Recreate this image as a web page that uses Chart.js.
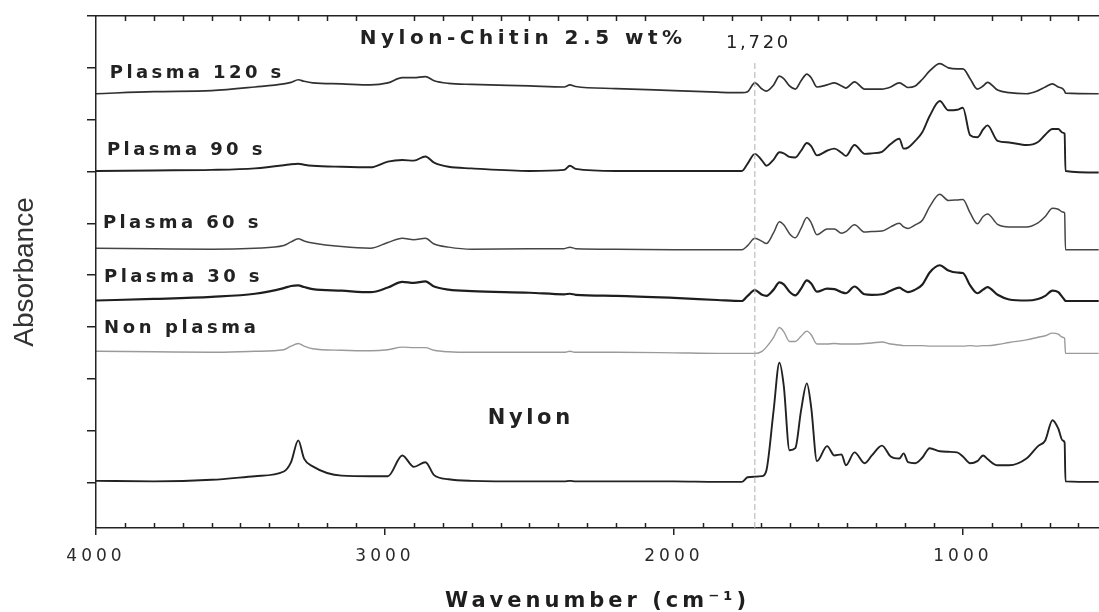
<!DOCTYPE html>
<html>
<head>
<meta charset="utf-8">
<title>Nylon-Chitin FTIR</title>
<script src="https://cdn.jsdelivr.net/npm/chart.js@4.4.1/dist/chart.umd.min.js"></script>
<style>
    html, body { margin: 0; padding: 0; background: #fff; }
    #wrap { width: 1099px; height: 612px; }
</style>
</head>
<body>
<div id="wrap"><canvas id="ftirChart" width="1099" height="612"></canvas></div>
<script>
// wavenumber grid (cm-1), shared by every spectrum
const wavenumbers = [4000, 3800, 3600, 3450, 3350, 3325, 3300, 3280, 3250, 3150, 3050, 2990, 2940, 2900, 2860, 2830, 2780,
    2700, 2500, 2380, 2360, 2340, 2200, 2000, 1850, 1765, 1745, 1720, 1695, 1680, 1655, 1635, 1620, 1600, 1580, 1560,
    1540, 1525, 1505, 1470, 1445, 1420, 1405, 1375, 1340, 1315, 1280, 1250, 1220, 1205, 1190, 1165, 1140, 1115, 1080,
    1050, 1020, 1000, 975, 950, 930, 915, 880, 840, 780, 740, 715, 690, 670, 655, 648, 645, 530];

// stacked absorbance traces (offset already included)
const plasma120 = [8.50, 8.54, 8.56, 8.63, 8.69, 8.72, 8.77, 8.74, 8.71, 8.69, 8.67, 8.71, 8.81, 8.81, 8.83, 8.75, 8.70,
    8.68, 8.65, 8.63, 8.67, 8.64, 8.60, 8.56, 8.53, 8.52, 8.54, 8.71, 8.59, 8.55, 8.67, 8.84, 8.79, 8.65, 8.59, 8.75,
    8.88, 8.81, 8.63, 8.67, 8.71, 8.65, 8.61, 8.73, 8.59, 8.59, 8.59, 8.63, 8.71, 8.67, 8.62, 8.65, 8.78, 8.94, 9.08,
    9.00, 8.98, 8.98, 8.79, 8.59, 8.65, 8.72, 8.57, 8.52, 8.50, 8.56, 8.63, 8.69, 8.63, 8.60, 8.55, 8.51, 8.50];

const plasma90 = [7.01, 7.02, 7.03, 7.06, 7.12, 7.14, 7.15, 7.13, 7.11, 7.09, 7.08, 7.19, 7.22, 7.21, 7.29, 7.17, 7.09,
    7.06, 7.01, 7.03, 7.11, 7.05, 7.01, 7.01, 7.01, 7.01, 7.15, 7.34, 7.21, 7.11, 7.23, 7.37, 7.35, 7.28, 7.27, 7.40,
    7.55, 7.49, 7.31, 7.40, 7.44, 7.36, 7.30, 7.51, 7.34, 7.35, 7.38, 7.53, 7.63, 7.44, 7.46, 7.59, 7.76, 8.07, 8.36,
    8.18, 8.19, 8.23, 7.70, 7.66, 7.81, 7.89, 7.59, 7.56, 7.51, 7.57, 7.71, 7.82, 7.82, 7.75, 7.73, 7.01, 6.98];

const plasma60 = [5.52, 5.51, 5.50, 5.52, 5.57, 5.64, 5.70, 5.66, 5.62, 5.55, 5.52, 5.63, 5.71, 5.68, 5.71, 5.60, 5.54,
    5.50, 5.51, 5.51, 5.54, 5.51, 5.50, 5.49, 5.49, 5.49, 5.57, 5.71, 5.65, 5.61, 5.82, 6.03, 5.97, 5.80, 5.72, 5.90,
    6.11, 6.01, 5.78, 5.89, 5.89, 5.81, 5.84, 5.97, 5.83, 5.84, 5.85, 5.93, 6.00, 5.93, 5.90, 5.97, 6.06, 6.32, 6.56,
    6.44, 6.45, 6.46, 6.20, 5.99, 6.13, 6.18, 5.98, 5.93, 5.93, 6.01, 6.13, 6.29, 6.27, 6.22, 6.20, 5.49, 5.49];

const plasma30 = [4.51, 4.54, 4.58, 4.64, 4.75, 4.79, 4.80, 4.77, 4.73, 4.70, 4.67, 4.76, 4.87, 4.85, 4.88, 4.78, 4.72,
    4.69, 4.66, 4.63, 4.64, 4.62, 4.60, 4.56, 4.52, 4.50, 4.60, 4.71, 4.62, 4.60, 4.72, 4.86, 4.82, 4.68, 4.61, 4.74,
    4.90, 4.84, 4.68, 4.74, 4.73, 4.67, 4.65, 4.78, 4.63, 4.62, 4.63, 4.70, 4.76, 4.71, 4.67, 4.72, 4.82, 5.05, 5.19,
    5.09, 5.05, 5.04, 4.80, 4.65, 4.72, 4.77, 4.62, 4.53, 4.51, 4.54, 4.60, 4.70, 4.67, 4.57, 4.52, 4.50, 4.50];

const nonPlasma = [3.53, 3.52, 3.51, 3.53, 3.56, 3.63, 3.68, 3.63, 3.58, 3.55, 3.54, 3.56, 3.61, 3.60, 3.60, 3.55, 3.52,
    3.51, 3.51, 3.51, 3.53, 3.51, 3.51, 3.50, 3.49, 3.49, 3.49, 3.49, 3.53, 3.61, 3.80, 3.99, 3.91, 3.72, 3.72, 3.82,
    3.92, 3.85, 3.67, 3.67, 3.68, 3.67, 3.67, 3.67, 3.68, 3.69, 3.71, 3.67, 3.65, 3.64, 3.64, 3.64, 3.64, 3.63, 3.63,
    3.63, 3.63, 3.63, 3.64, 3.63, 3.64, 3.64, 3.66, 3.70, 3.75, 3.80, 3.83, 3.88, 3.86, 3.80, 3.78, 3.49, 3.49];

const nylon = [1.03, 1.02, 1.05, 1.12, 1.21, 1.39, 1.81, 1.46, 1.31, 1.13, 1.12, 1.12, 1.52, 1.30, 1.39, 1.14, 1.06,
    1.03, 1.02, 1.02, 1.03, 1.02, 1.02, 1.02, 1.01, 1.01, 1.10, 1.11, 1.12, 1.23, 2.39, 3.31, 2.87, 1.62, 1.66, 2.39,
    2.91, 2.45, 1.41, 1.70, 1.52, 1.54, 1.33, 1.58, 1.37, 1.52, 1.71, 1.50, 1.46, 1.56, 1.39, 1.37, 1.48, 1.66, 1.60,
    1.59, 1.58, 1.50, 1.37, 1.41, 1.52, 1.45, 1.33, 1.33, 1.46, 1.70, 1.81, 2.20, 2.04, 1.81, 1.77, 1.02, 1.01];

const xTicks = [4000, 3000, 2000, 1000];
const yTicks = [1, 2, 3, 4, 5, 6, 7, 8, 9, 10];
const minorTicks = [];
for (let v = 600; v < 4000; v += 100) {
    if (v % 1000 !== 0) minorTicks.push(v);
}
const markerWavenumber = 1720;

const FONT = '"DejaVu Sans", "Liberation Sans", sans-serif';

// text placed in data coordinates: [wavenumber, absorbance]
const annotations = [
    { text: 'Nylon-Chitin 2.5 wt%', at: [3087, 9.56], size: 20, weight: 'bold', spacing: 4.5 },
    { text: '1,720', at: [1820, 9.47], size: 18, weight: 'normal', spacing: 2.7 },
    { text: 'Plasma 120 s', at: [3952, 8.90], size: 18, weight: 'bold', spacing: 3.4 },
    { text: 'Plasma 90 s', at: [3962, 7.40], size: 18, weight: 'bold', spacing: 3.4 },
    { text: 'Plasma 60 s', at: [3976, 5.99], size: 18, weight: 'bold', spacing: 3.4 },
    { text: 'Plasma 30 s', at: [3972, 4.95], size: 18, weight: 'bold', spacing: 3.4 },
    { text: 'Non plasma', at: [3972, 3.97], size: 18, weight: 'bold', spacing: 3.6 },
    { text: 'Nylon', at: [2644, 2.24], size: 21, weight: 'bold', spacing: 3.6 }
];

function toPoints(values) {
    return wavenumbers.map((w, i) => ({ x: w, y: values[i] }));
}

// wide lettering on the bottom axis, as in the scanned figure
const letterSpacingPlugin = {
    id: 'letterSpacing',
    beforeDraw(chart) { chart.ctx.letterSpacing = '4px'; },
    beforeDatasetsDraw(chart) { chart.ctx.letterSpacing = '0px'; }
};

const minorTicksPlugin = {
    id: 'minorTicks',
    afterDraw(chart) {
        const { ctx, chartArea, scales } = chart;
        ctx.save();
        ctx.strokeStyle = '#222';
        ctx.lineWidth = 1.5;
        minorTicks.forEach(v => {
            const px = Math.round(scales.x.getPixelForValue(v)) + 0.5;
            ctx.beginPath();
            ctx.moveTo(px, chartArea.bottom);
            ctx.lineTo(px, chartArea.bottom - 5);
            ctx.moveTo(px, chartArea.top);
            ctx.lineTo(px, chartArea.top + 5);
            ctx.stroke();
        });
        ctx.restore();
    }
};

const annotationPlugin = {
    id: 'annotations',
    afterDraw(chart) {
        const { ctx, scales } = chart;
        ctx.save();
        ctx.fillStyle = '#222';
        ctx.textBaseline = 'middle';
        ctx.textAlign = 'left';
        annotations.forEach(a => {
            ctx.font = a.weight + ' ' + a.size + 'px ' + FONT;
            ctx.letterSpacing = a.spacing + 'px';
            ctx.fillText(a.text, scales.x.getPixelForValue(a.at[0]), scales.y.getPixelForValue(a.at[1]));
        });
        ctx.letterSpacing = '0px';
        ctx.restore();
    }
};

document.addEventListener('DOMContentLoaded', function () {
    const ctx = document.getElementById('ftirChart').getContext('2d');

    const traces = [
        { label: 'Plasma 120 s', values: plasma120, color: '#303030', width: 1.7 },
        { label: 'Plasma 90 s', values: plasma90, color: '#222222', width: 1.9 },
        { label: 'Plasma 60 s', values: plasma60, color: '#454545', width: 1.5 },
        { label: 'Plasma 30 s', values: plasma30, color: '#1e1e1e', width: 2.2 },
        { label: 'Non plasma', values: nonPlasma, color: '#9a9a9a', width: 1.4 },
        { label: 'Nylon', values: nylon, color: '#222222', width: 1.9 }
    ];

    const datasets = [{
        label: '1,720',
        data: [{ x: markerWavenumber, y: 0.12 }, { x: markerWavenumber, y: 9.15 }],
        borderColor: '#b0b0b0',
        borderWidth: 1,
        borderDash: [6, 3]
    }].concat(traces.map(t => ({
        label: t.label,
        data: toPoints(t.values),
        borderColor: t.color,
        borderWidth: t.width,
        cubicInterpolationMode: 'monotone'
    })));

    new Chart(ctx, {
        type: 'line',
        data: { datasets: datasets },
        options: {
            responsive: false,
            animation: false,
            events: [],
            layout: { padding: 0 },
            elements: { point: { radius: 0 } },
            plugins: {
                legend: { display: false },
                tooltip: { enabled: false }
            },
            scales: {
                x: {
                    type: 'linear',
                    position: 'bottom',
                    reverse: true,
                    min: 529,
                    max: 4000,
                    afterBuildTicks: s => { s.ticks = xTicks.map(v => ({ value: v })); },
                    afterFit: s => { s.height = 84; },
                    ticks: {
                        callback: v => String(v),
                        autoSkip: false,
                        maxRotation: 0,
                        padding: 11,
                        color: '#2a2a2a',
                        font: { family: FONT, size: 17 }
                    },
                    grid: { drawOnChartArea: false, tickLength: 7, color: '#222', lineWidth: 1.5 },
                    border: { color: '#222', width: 1.5 },
                    title: {
                        display: true,
                        text: 'Wavenumber (cm\u207B\u00B9)',
                        color: '#1e1e1e',
                        font: { family: FONT, size: 21, weight: 'bold', lineHeight: 1 },
                        padding: { top: 0, bottom: 0 }
                    }
                },
                xTop: {
                    type: 'linear',
                    position: 'top',
                    reverse: true,
                    min: 529,
                    max: 4000,
                    afterFit: s => { s.height = 16; },
                    ticks: { display: false },
                    grid: { drawOnChartArea: false, drawTicks: false },
                    border: { color: '#222', width: 1.5 }
                },
                y: {
                    min: 0.12,
                    max: 10,
                    afterBuildTicks: s => { s.ticks = yTicks.map(v => ({ value: v })); },
                    afterFit: s => { s.width = 96; },
                    ticks: { display: false },
                    grid: { drawOnChartArea: false, tickLength: 9, color: '#222', lineWidth: 1.5, z: 1 },
                    border: { color: '#222', width: 1.5, z: 1 },
                    title: {
                        display: true,
                        text: 'Absorbance',
                        color: '#333',
                        font: { family: '"Liberation Sans", Arial, sans-serif', size: 28, lineHeight: 1 },
                        padding: { top: 11, bottom: 0 }
                    }
                }
            }
        },
        plugins: [letterSpacingPlugin, minorTicksPlugin, annotationPlugin]
    });
});
</script>
</body>
</html>
